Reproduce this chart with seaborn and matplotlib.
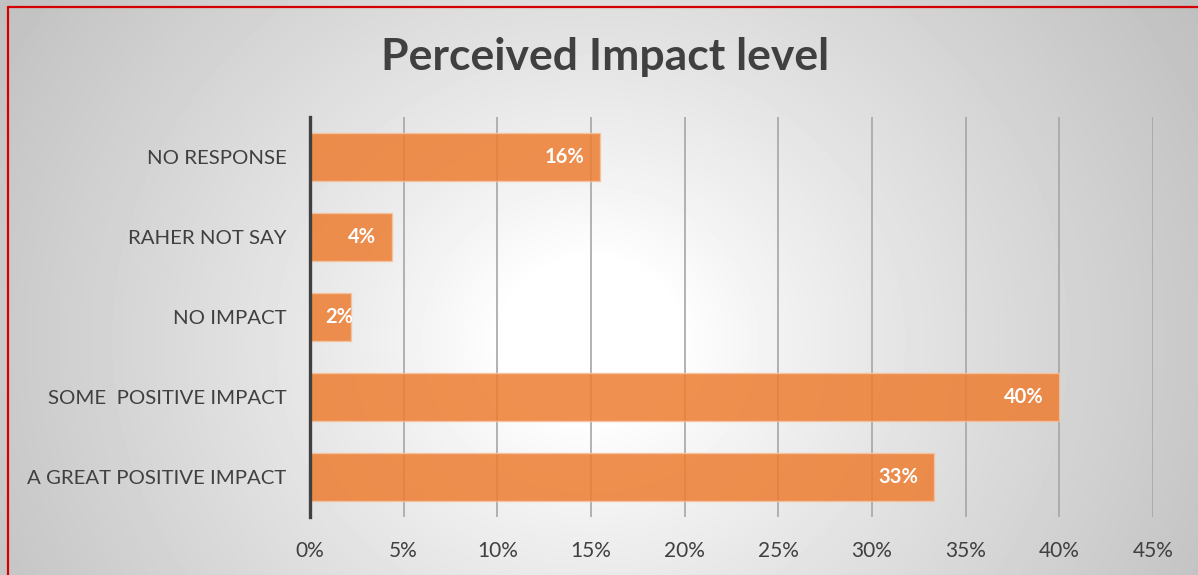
import numpy as np
import pandas as pd
import matplotlib
matplotlib.use("Agg")
import matplotlib.pyplot as plt
from matplotlib.lines import Line2D
import seaborn as sns

categories = [
    "NO RESPONSE",
    "RAHER NOT SAY",
    "NO IMPACT",
    "SOME  POSITIVE IMPACT",
    "A GREAT POSITIVE IMPACT",
]
values = [15.5, 4.4, 2.2, 40.0, 33.3]
x_ticks = [0, 5, 10, 15, 20, 25, 30, 35, 40, 45]
title = "Perceived Impact level"

df = pd.DataFrame({"category": categories, "share": values})

sns.set_theme(style="white")
plt.rcParams["font.family"] = ["Lato", "DejaVu Sans"]

W, H, DPI = 1198, 575, 100
fig = plt.figure(figsize=(W / DPI, H / DPI), dpi=DPI)

# radial grey-to-white background
bg = fig.add_axes([0, 0, 1, 1], zorder=-10)
yy, xx = np.mgrid[0:H, 0:W]
d = np.hypot(xx - 590, (yy - 340) * 1.1)
v = 1.0 - 0.25 * np.clip((d - 90) / 620, 0, 1) ** 0.85
bg.imshow(v, cmap="gray", vmin=0, vmax=1, aspect="auto",
          extent=[0, 1, 0, 1], interpolation="bilinear")
bg.set_axis_off()

ax = fig.add_axes([310 / W, 1 - 517 / H, (1153 - 310) / W, (517 - 117) / H])
ax.set_facecolor("none")

sns.barplot(data=df, x="share", y="category", order=categories,
            color="#ED7D31", saturation=1, alpha=0.85, width=0.59, ax=ax,
            edgecolor="#F6C3A0", linewidth=1.0, zorder=3)

ax.set_xlim(0, 45)
ax.set_xticks(x_ticks)
ax.set_xticklabels([f"{t}%" for t in x_ticks], fontsize=15, color="#404040")
ax.tick_params(axis="y", labelsize=14.7, labelcolor="#404040", length=0, pad=17)
ax.tick_params(axis="x", length=0, pad=17)
ax.set_xlabel("")
ax.set_ylabel("")

for t in x_ticks[1:]:
    ax.axvline(t, color="#A6A6A6", linewidth=1.2, zorder=1)

for s in ["top", "right", "bottom"]:
    ax.spines[s].set_visible(False)
ax.spines["left"].set_color("#404040")
ax.spines["left"].set_linewidth(2.4)
ax.spines["left"].set_zorder(5)

# value labels inside the bar end; short bars keep the label near the axis
px_per_unit = (1153 - 310) / 45
for i, val in enumerate(values):
    label = f"{val:.0f}%"
    if val * px_per_unit < 60:
        ax.annotate(label, xy=(0, i), xytext=(15, 0),
                    textcoords="offset pixels", ha="left", va="center",
                    color="white", fontsize=14.5, fontweight="bold", zorder=6)
    else:
        ax.annotate(label, xy=(val, i), xytext=(-16, 0),
                    textcoords="offset pixels", ha="right", va="center",
                    color="white", fontsize=14.5, fontweight="bold", zorder=6)

fig.text(0.505, 1 - 57 / H, title, ha="center", va="center",
         fontsize=32, fontweight="bold", color="#404040")

# red frame along top and left edges
fig.add_artist(Line2D([7.5 / W, 1], [1 - 6.5 / H, 1 - 6.5 / H],
                      transform=fig.transFigure, color="#D40000", linewidth=1.6))
fig.add_artist(Line2D([7.5 / W, 7.5 / W], [0, 1 - 6.5 / H],
                      transform=fig.transFigure, color="#D40000", linewidth=1.6))

fig.savefig("out.png", dpi=DPI)
